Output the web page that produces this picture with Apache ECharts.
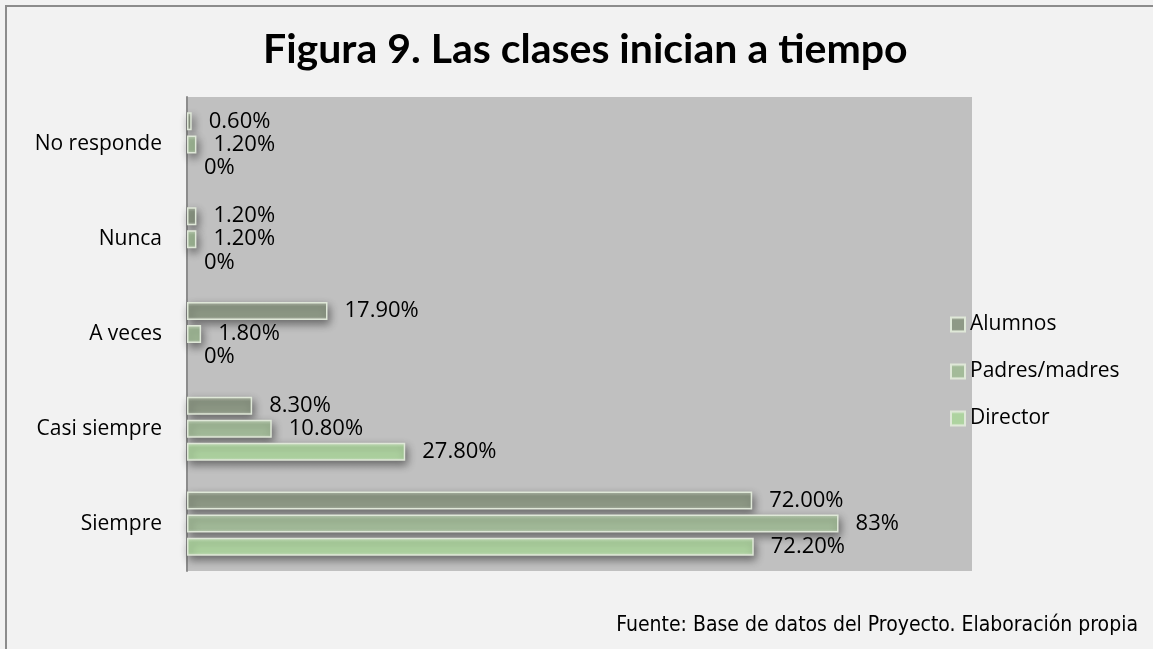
<!DOCTYPE html>
<html>
<head>
<meta charset="utf-8">
<script src="https://cdn.jsdelivr.net/npm/echarts@6/dist/echarts.min.js"></script>
<style>
  html, body { margin: 0; padding: 0; background: #f2f2f2; }
  #chart { width: 1153px; height: 649px; }
</style>
</head>
<body>
<div id="chart"></div>
<script>
// categories, top to bottom
const categories = ["No responde", "Nunca", "A veces", "Casi siempre", "Siempre"];

const alumnos = [0.6, 1.2, 17.9, 8.3, 72.0];
const padres = [1.2, 1.2, 1.8, 10.8, 83];
const director = [0, 0, 0, 27.8, 72.2];

// label text as printed in the figure
const alumnosLabels = ["0.60%", "1.20%", "17.90%", "8.30%", "72.00%"];
const padresLabels = ["1.20%", "1.20%", "1.80%", "10.80%", "83%"];
const directorLabels = ["0%", "0%", "0%", "27.80%", "72.20%"];

const seriesNames = ["Alumnos", "Padres/madres", "Director"];

const chart = echarts.init(document.getElementById("chart"));

function barStyle(base, light) {
  return {
    color: new echarts.graphic.LinearGradient(0, 0, 0, 1, [
      { offset: 0, color: light },
      { offset: 0.25, color: base },
      { offset: 0.8, color: base },
      { offset: 1, color: light },
    ]),
    borderColor: "#dfe8d8",
    borderWidth: 1.5,
    shadowColor: "rgba(0, 0, 0, 0.45)",
    shadowBlur: 8,
    shadowOffsetX: 2,
    shadowOffsetY: 4,
  };
}

function makeSeries(name, data, labels, base, light) {
  return {
    name: name,
    type: "bar",
    // zero values draw nothing, as in the figure
    data: data.map((v) => (v === 0 ? { value: 0, itemStyle: { borderWidth: 0, shadowBlur: 0 } } : v)),
    barWidth: 18,
    barGap: "28%",
    itemStyle: barStyle(base, light),
    label: {
      show: true,
      position: "right",
      distance: 17,
      color: "#000",
      fontSize: 22,
      fontFamily: "Open Sans",
      formatter: (p) => labels[p.dataIndex],
    },
  };
}

const options = {
  backgroundColor: "#f2f2f2",
  animation: false,
  title: {
    text: "Figura 9. Las clases inician a tiempo",
    left: 258,
    top: 24,
    textStyle: {
      fontFamily: "Lato",
      fontWeight: "bold",
      fontSize: 41,
      color: "#000",
    },
  },
  legend: {
    data: seriesNames,
    orient: "vertical",
    left: 945,
    top: 309,
    itemWidth: 14,
    itemHeight: 14,
    itemGap: 26,
    icon: "rect",
    textStyle: { fontFamily: "Open Sans", fontSize: 21, color: "#000" },
  },
  grid: {
    left: 187,
    right: 181,
    top: 97,
    bottom: 78,
    show: true,
    backgroundColor: "#c0c0c0",
    borderWidth: 0,
  },
  xAxis: {
    type: "value",
    min: 0,
    max: 100,
    show: false,
  },
  yAxis: {
    type: "category",
    data: categories,
    inverse: true,
    axisLine: { show: true, lineStyle: { color: "#8c8c8c", width: 2 } },
    axisTick: { show: false },
    axisLabel: {
      margin: 25,
      color: "#000",
      fontSize: 21,
      fontFamily: "Open Sans",
    },
  },
  series: [
    makeSeries("Alumnos", alumnos, alumnosLabels, "#8e9986", "#b4bcad"),
    makeSeries("Padres/madres", padres, padresLabels, "#a3bb99", "#c3d4bb"),
    makeSeries("Director", director, directorLabels, "#aed3a0", "#cde6c3"),
  ],
  graphic: [
    {
      type: "polyline",
      shape: { points: [[6, 649], [6, 6], [1153, 6]] },
      style: { stroke: "#8c8c8c", lineWidth: 2, fill: null },
    },
    {
      type: "text",
      right: 15,
      top: 615,
      style: {
        text: "Fuente: Base de datos del Proyecto. Elaboración propia",
        font: "21px 'DejaVu Sans Condensed', 'DejaVu Sans'",
        fill: "#000",
      },
    },
  ],
};

chart.setOption(options);
window.addEventListener("resize", () => chart.resize());
</script>
</body>
</html>
